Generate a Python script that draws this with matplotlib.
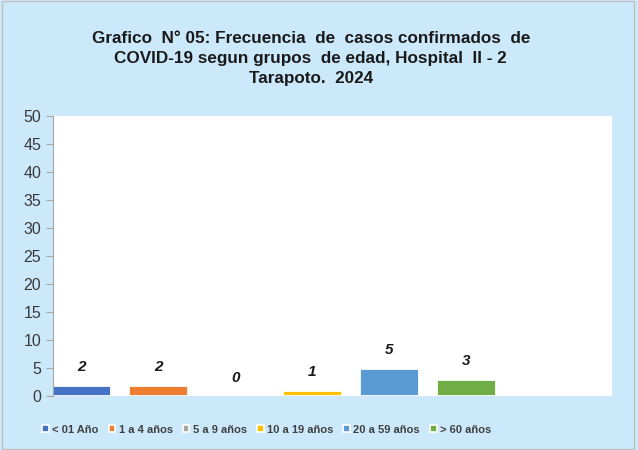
import matplotlib.pyplot as plt
from matplotlib.patches import Rectangle, Patch

# Datos del gráfico
grupos = ['< 01 Año', '1 a 4 años', '5 a 9 años', '10 a 19 años', '20 a 59 años', '> 60 años']
casos = [2, 2, 0, 1, 5, 3]
colores = ['#4472C4', '#ED7D31', '#A5A5A5', '#FFC000', '#5B9BD5', '#70AD47']
yticks = list(range(0, 55, 5))

titulo = ('Grafico  N° 05: Frecuencia  de  casos confirmados  de\n'
          'COVID-19 segun grupos  de edad, Hospital  II - 2\n'
          'Tarapoto.  2024')

plt.rcParams['font.family'] = ['Liberation Sans', 'DejaVu Sans']

fondo = '#CCE9FB'
fig = plt.figure(figsize=(6.38, 4.5), dpi=100, facecolor=fondo)
fig.patches.append(Rectangle((0.003, 0.003), 0.99, 0.994, transform=fig.transFigure,
                             fill=False, edgecolor='#BFBFBF', linewidth=1))

ax = fig.add_axes([0.083, 0.12, 0.876, 0.622])
ax.set_facecolor('white')

x = list(range(len(grupos)))
barras = ax.bar(x, casos, width=0.78, color=colores, edgecolor='white', linewidth=2)

for xi, v in zip(x, casos):
    ax.annotate(str(v), (xi, v), xytext=(0, 13), textcoords='offset points',
                ha='center', va='center', fontsize=11, fontweight='bold', fontstyle='italic',
                color='#1a1a1a')

ax.set_xlim(-0.37, 6.89)
ax.set_ylim(0, 50)
ax.set_yticks(yticks)
ax.set_xticks([])
ax.tick_params(axis='y', colors='#A6A6A6', labelcolor='#3a3a3a', labelsize=11.5, length=5, direction='out')
for s in ['top', 'right', 'bottom']:
    ax.spines[s].set_visible(False)
ax.spines['left'].set_color('#A6A6A6')

fig.text(0.487, 0.87, titulo, ha='center', va='center', fontsize=12.3, fontweight='bold',
         color='#1a1a1a', linespacing=1.45)

handles = [Patch(facecolor=c, edgecolor='white', linewidth=1.2) for c in colores]
fig.legend(handles, grupos, loc='center', bbox_to_anchor=(0.418, 0.045), ncol=6, frameon=False,
           handlelength=0.6, handleheight=0.6, handletextpad=0.3, columnspacing=0.9,
           prop={'size': 8, 'weight': 'bold'}, labelcolor='#404040')

fig.savefig('out.png', dpi=100, facecolor=fondo)
